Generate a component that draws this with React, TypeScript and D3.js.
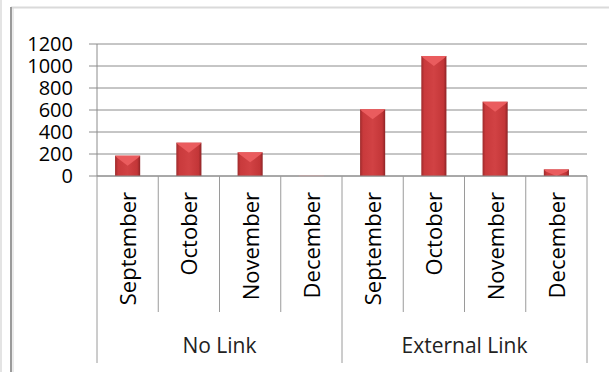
import * as d3 from "d3";
import React from "react";

// data
const groups = ["No Link", "External Link"];
const months = ["September", "October", "November", "December"];
const noLinkValues = [185, 303, 215, 2];
const externalLinkValues = [606, 1091, 675, 60];
const yTicks = [0, 200, 400, 600, 800, 1000, 1200];

const W = 609;
const H = 372;
const FONT = "'Open Sans', sans-serif";

const App = () => {
  const rows = [
    ...months.map((m, i) => ({ key: "a" + i, group: groups[0], month: m, value: noLinkValues[i] })),
    ...months.map((m, i) => ({ key: "b" + i, group: groups[1], month: m, value: externalLinkValues[i] })),
  ];

  const left = 97;
  const right = 587;
  const top = 44;
  const bottom = 176;

  const x = d3
    .scaleBand()
    .domain(rows.map((d) => d.key))
    .range([left, right])
    .paddingInner(0.59)
    .paddingOuter(0.295);

  // slot scale (no padding) for the divider lines
  const slot = d3.scaleBand().domain(rows.map((d) => d.key)).range([left, right]);

  const y = d3.scaleLinear().domain([0, 1200]).range([bottom, top]);

  const groupX = d3.scaleBand().domain(groups).range([left, right]);

  return (
    <svg width={W} height={H} style={{ position: "absolute", left: 0, top: 0, background: "#fff" }}>
      <defs>
        <linearGradient id="barGrad" x1="0" x2="1" y1="0" y2="0">
          <stop offset="0" stopColor="#9e2a2b" />
          <stop offset="0.12" stopColor="#c93a3c" />
          <stop offset="0.5" stopColor="#d14244" />
          <stop offset="0.88" stopColor="#c33638" />
          <stop offset="1" stopColor="#8e2426" />
        </linearGradient>
      </defs>

      {/* frame */}
      <line x1={1} x2={1} y1={0} y2={H} stroke="#e4e4e4" strokeWidth={2} />
      <line x1={11} x2={W} y1={7.5} y2={7.5} stroke="#dadada" strokeWidth={2} />
      <line x1={11} x2={11} y1={7} y2={H} stroke="#9a9a9a" strokeWidth={2} />
      <line x1={13} x2={13} y1={8} y2={H} stroke="#d6d6d6" strokeWidth={1} />

      {/* gridlines + y ticks */}
      {yTicks.map((t) => (
        <g key={t}>
          <line x1={89} x2={right} y1={y(t)} y2={y(t)} stroke="#8c8c8c" strokeWidth={1} />
          <text
            x={73}
            y={y(t)}
            dy="0.36em"
            textAnchor="end"
            fontFamily={FONT}
            fontSize={20}
            fill="#000"
          >
            {t}
          </text>
        </g>
      ))}

      {/* value axis line */}
      <line x1={left} x2={left} y1={top} y2={bottom} stroke="#8c8c8c" strokeWidth={1} />

      {/* bars */}
      {rows.map((d) => {
        const bx = x(d.key) as number;
        const bw = x.bandwidth();
        const by = y(d.value);
        const bh = bottom - by;
        const bev = Math.min(10, bh);
        return (
          <g key={d.key}>
            <rect x={bx} y={by} width={bw} height={bh} fill="url(#barGrad)" />
            {bh > 1.5 ? (
              <polygon
                points={`${bx},${by} ${bx + bw},${by} ${bx + bw - 2},${by + 2} ${bx + bw / 2},${by + bev} ${bx + 2},${by + 2}`}
                fill="#ea5c5e"
              />
            ) : (
              <rect x={bx} y={by - 0.5} width={bw} height={1} fill="#f3c6c7" />
            )}
          </g>
        );
      })}

      {/* category axis */}
      <line x1={left} x2={right} y1={bottom} y2={bottom} stroke="#8c8c8c" strokeWidth={1} />
      {rows.map((d, i) =>
        i === 0 ? null : (
          <line
            key={"div" + d.key}
            x1={slot(d.key) as number}
            x2={slot(d.key) as number}
            y1={bottom}
            y2={i % 4 === 0 ? 363 : 312}
            stroke="#9a9a9a"
            strokeWidth={1}
          />
        )
      )}
      <line x1={left} x2={left} y1={bottom} y2={363} stroke="#9a9a9a" strokeWidth={1} />
      <line x1={right} x2={right} y1={bottom} y2={363} stroke="#9a9a9a" strokeWidth={1} />

      {rows.map((d) => {
        const cx = (slot(d.key) as number) + slot.bandwidth() / 2;
        return (
          <text
            key={"lab" + d.key}
            transform={`translate(${cx},192) rotate(-90)`}
            dy="0.38em"
            textAnchor="end"
            fontFamily={FONT}
            fontSize={22}
            fill="#000"
          >
            {d.month}
          </text>
        );
      })}

      {groups.map((g) => (
        <text
          key={g}
          x={(groupX(g) as number) + groupX.bandwidth() / 2}
          y={353}
          textAnchor="middle"
          fontFamily={FONT}
          fontSize={21}
          fill="#222"
        >
          {g}
        </text>
      ))}
    </svg>
  );
};

export default App;
